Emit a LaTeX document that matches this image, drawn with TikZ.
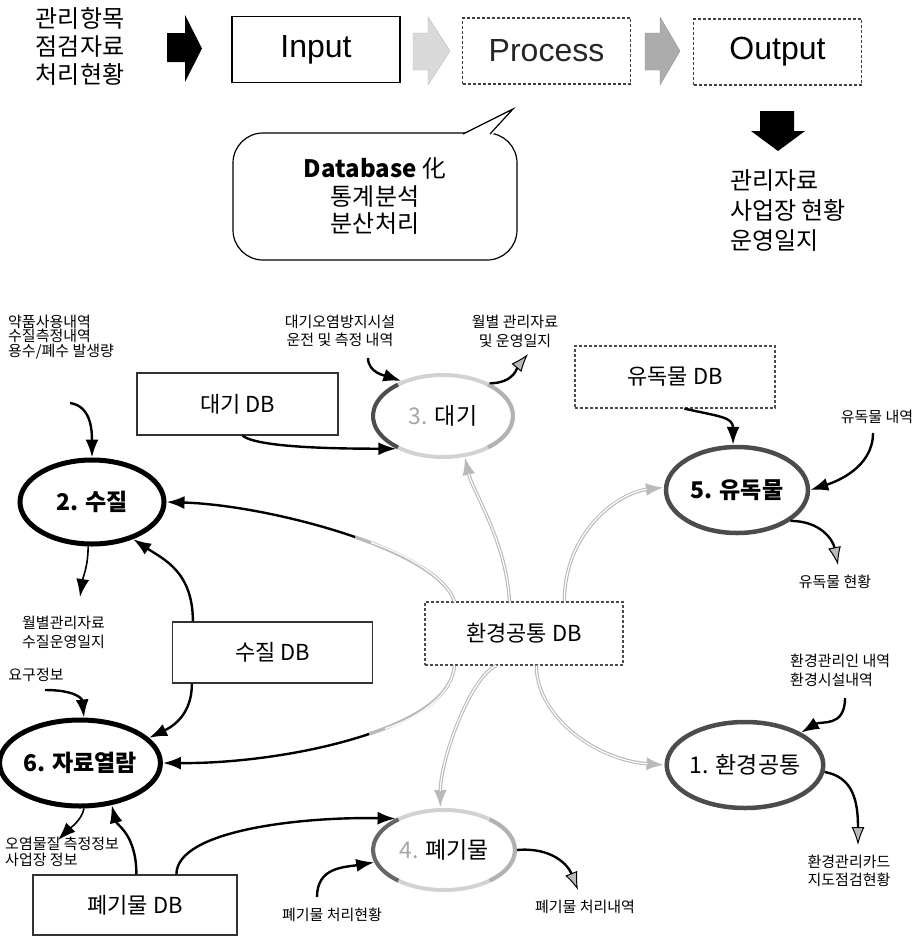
\documentclass[tikz,border=0pt]{standalone}
\usepackage{fontspec}
\setmainfont{Noto Sans CJK KR}
\newfontfamily\arialfont{Liberation Sans}
\usepackage{tikz}
\usetikzlibrary{calc,shapes,positioning}
\usetikzlibrary{arrows.meta}

\tikzset{
  big/.style={font=\fontsize{24}{#1}\selectfont, align=center, inner sep=0pt},
  big/.default=28,
  note/.style={font=\fontsize{15}{#1}\selectfont, align=center, inner sep=0pt},
  note/.default=18,
  stage/.style={draw, minimum width=168pt, minimum height=66pt, inner sep=0pt, font=\arialfont\fontsize{32}{36}\selectfont},
  dbbox/.style={draw=black!80, line width=1.2pt, minimum width=200pt, minimum height=62pt, inner sep=0pt, font=\fontsize{22}{24}\selectfont},
  proc/.style={ellipse, minimum width=144pt, minimum height=84pt, inner sep=0pt, font=\fontsize{23}{25}\selectfont},
  boldproc/.style={proc, font=\bfseries\fontsize{23}{25}\selectfont},
  conn/.style={->, line width=2.4pt},
  slim/.style={->, line width=1.6pt},
  ghead/.style={>={Latex[length=18pt,width=13pt,fill=gray!55,line width=1pt]}},
  tube/.style={->, draw=gray!55, line width=3.4pt, postaction={draw=white, line width=1.2pt, -, shorten >=17pt}}
}

\begin{document}
\begin{tikzpicture}[x=1pt,y=-1pt,>={Latex[length=18pt,width=13pt]}]
  \useasboundingbox (0,0) rectangle (919,937);

  \node[big] (items) at (80,46) {관리항목\\점검자료\\처리현황};
  \fill (167,33) -- (185,33) -- (185,15) -- (202,48.5) -- (185,82) -- (185,62) -- (167,62) -- cycle;
  \node[stage, line width=1.5pt] (in) at (316,49.5) {Input};
  \filldraw[fill=gray!30, draw=gray!55] (413,33) -- (428,33) -- (428,17) -- (450,51) -- (428,85) -- (428,70) -- (413,70) -- cycle;
  \node[stage, draw=black!75, densely dashed, line width=1.3pt, text=black!85] (pr) at (546.5,51) {Process};
  \filldraw[fill=gray!65, draw=gray!85] (645,33) -- (660,33) -- (660,17) -- (680,51) -- (660,85) -- (660,70) -- (645,70) -- cycle;
  \node[stage, draw=black!75, densely dashed, line width=1.3pt] (out) at (777.5,52) {Output};
  \fill (760,111) -- (794,111) -- (794,131) -- (805,131) -- (778,151) -- (751,131) -- (760,131) -- cycle;
  \node[big=30, anchor=west, align=left] (res) at (730,211) {관리자료\\사업장 현황\\운영일지};

  \node[big=27.5, draw, line width=1.2pt, rounded corners=30pt, minimum width=284pt, minimum height=127pt] (bub) at (375,196.5) {{\bfseries Database} 化\\통계분석\\분산처리};
  \fill[white] (461,135.5) -- (513,109) -- (492,135.5) -- cycle;
  \draw[line width=1.2pt] (463,134) -- (513,109) -- (490,134);

  \node[note=14.5, anchor=west, align=left] (t2in) at (8,337) {약품사용내역\\수질측정내역\\용수/폐수 발생량};
  \node[note] (t3in) at (340,331) {대기오염방지시설\\운전 및 측정 내역};
  \node[note=19] (t3out) at (515,331) {월별 관리자료\\및 운영일지};
  \node[note] (t5in) at (877,417) {유독물 내역};
  \node[note] (t5out) at (835,582) {유독물 현황};
  \node[note=19, anchor=west, align=left] (t2out) at (22,632) {월별관리자료\\수질운영일지};
  \node[note=19, anchor=west, align=left] (t1in) at (790,670) {환경관리인 내역\\환경시설내역};
  \node[note] (t6in) at (36,675) {요구정보};
  \node[note=16, anchor=west, align=left] (t6out) at (5,852) {오염물질 측정정보\\사업장 정보};
  \node[note] (t1out) at (849,871) {환경관리카드\\지도점검현황};
  \node[note] (t4in) at (332,915) {폐기물 처리현황};
  \node[note] (t4out) at (585,907) {폐기물 처리내역};

  \node[dbbox, minimum width=201pt] (dbair) at (237.5,404) {대기 DB};
  \node[dbbox, draw=black!70, densely dashed] (dbtox) at (675,377) {유독물 DB};
  \node[dbbox, minimum height=61pt] (dbwat) at (272.5,652.5) {수질 DB};
  \node[dbbox, minimum width=198pt, minimum height=63pt, draw=black!70, densely dashed] (dbcom) at (524,633.5) {환경공통 DB};
  \node[dbbox, minimum width=204pt, minimum height=60pt] (dbwas) at (135,905) {폐기물 DB};

  \node[boldproc, draw, line width=5pt] (p2) at (92,502) {2. 수질};
  \node[proc, draw=gray!35, line width=4pt, minimum width=140pt, minimum height=82pt] (p3) at (443,416) {{\color{gray!70}3.} 대기};
  \node[boldproc, draw=black!70, line width=4.5pt, minimum width=142pt, minimum height=86pt] (p5) at (737,490) {5. 유독물};
  \node[boldproc, draw, line width=5pt, minimum width=146pt, minimum height=86pt] (p6) at (80,763) {6. 자료열람};
  \node[proc, draw=black!70, line width=4.5pt, minimum height=86pt] (p1) at (745,765) {1. 환경공통};
  \node[proc, draw=gray!35, line width=4pt, minimum width=142pt, minimum height=80pt] (p4) at (444,850) {{\color{gray!70}4.} 폐기물};
  \draw[black!70, line width=4pt] ($(p3.center)+(-45,31.4)$) arc[start angle=130, end angle=230, x radius=70, y radius=41];
  \draw[gray!60, line width=4pt] ($(p3.center)+(45,-31.4)$) arc[start angle=-50, end angle=50, x radius=70, y radius=41];
  \draw[black!60, line width=4pt] ($(p4.center)+(-45.6,30.6)$) arc[start angle=130, end angle=230, x radius=71, y radius=40];
  \draw[gray!60, line width=4pt] ($(p4.center)+(45.6,-30.6)$) arc[start angle=-50, end angle=50, x radius=71, y radius=40];

  \coordinate (c2in) at (70,403);
  \coordinate (c2out) at (80,597);
  \coordinate (c3in) at (368,358);
  \coordinate (c3out) at (528,354);
  \coordinate (c5in) at (873,433);
  \coordinate (c5out) at (838,565);
  \coordinate (c1in) at (845,698);
  \coordinate (c1out) at (858,845);
  \coordinate (c6in) at (45,690);
  \coordinate (c6out) at (58,840);
  \coordinate (c4in) at (317,897);
  \coordinate (c4out) at (578,890);
  \coordinate (m2) at (355,537);
  \coordinate (m6) at (369,734);

  \draw[conn] (c2in) .. controls +(20,3) and +(0,-30) .. (p2.north);
  \draw[slim] (p2.-95) .. controls +(0,20) and +(3,-20) .. (c2out);
  \draw[conn] ($(dbwat.north west)+(21,0)$) .. controls +(0,-50) and +(30,20) .. (p2.-42);
  \draw[tube, -] ($(dbcom.north west)+(30,0)$) .. controls (447.5,578.5) and (408.75,555.5) .. (m2);
  \draw[conn] (m2) .. controls (301,518.25) and (232,504) .. (p2.east);
  \draw[tube, -] ($(dbcom.south west)+(30,0)$) .. controls (452.5,693.5) and (421.25,716.75) .. (m6);
  \draw[conn] (m6) .. controls (316.75,751.75) and (243.5,763.5) .. (p6.east);
  \draw[tube] ($(dbcom.north west)+(85,0)$) .. controls +(-3,-60) and +(8,35) .. (p3.-62);
  \draw[tube] ($(dbcom.north west)+(140,0)$) .. controls +(0,-70) and +(-45,5) .. (p5.178);
  \draw[tube] ($(dbcom.south west)+(72,0)$) .. controls +(-25,10) and +(0,-50) .. (p4.95);
  \draw[tube] ($(dbcom.south west)+(112,0)$) .. controls +(0,50) and +(-70,-5) .. (p1.west);
  \draw[conn] (c3in) .. controls +(0,15) and +(-15,-5) .. (p3.140);
  \draw[conn] ($(dbair.south west)+(106,0)$) .. controls +(15,12) and +(-60,0) .. (p3.215);
  \draw[conn, ghead] (p3.35) .. controls +(25,0) and +(-10,12) .. (c3out);
  \draw[conn] ($(dbtox.south west)+(110,0)$) .. controls +(35,8) and +(0,-28) .. (p5.95);
  \draw[conn] (c5in) .. controls +(0,35) and +(25,-8) .. (p5.east);
  \draw[conn, ghead] (p5.-30) .. controls +(30,0) and +(-5,-25) .. (c5out);
  \draw[conn] (c1in) .. controls +(0,30) and +(20,-12) .. (p1.30);
  \draw[conn, ghead] (p1.-5) .. controls +(28,5) and +(0,-45) .. (c1out);
  \draw[conn] (c4in) .. controls +(0,-30) and +(-30,5) .. (p4.190);
  \draw[conn, ghead] (p4.east) .. controls +(35,-3) and +(-10,-25) .. (c4out);
  \draw[conn] ($(dbwas.north west)+(144,0)$) .. controls +(0,-45) and +(-90,-2) .. (p4.147);
  \draw[conn] ($(dbwas.north west)+(104,0)$) .. controls +(0,-40) and +(5,20) .. (p6.-53);
  \draw[slim] (p6.-85) .. controls +(-2,12) and +(10,-10) .. (c6out);
  \draw[conn] (c6in) .. controls +(28,0) and +(-2,-20) .. (p6.85);
  \draw[conn] ($(dbwat.south west)+(20,0)$) .. controls +(0,30) and +(25,-12) .. (p6.20);
\end{tikzpicture}
\end{document}
